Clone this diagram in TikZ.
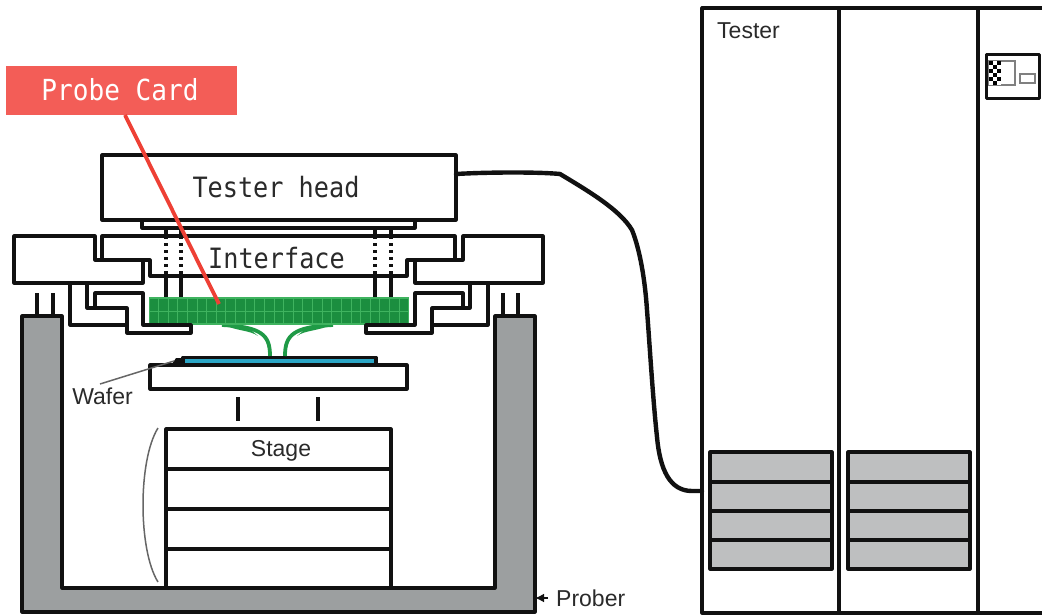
\documentclass[tikz,border=0pt]{standalone}
\usepackage{fontspec}
\setmainfont{Liberation Sans}
\newfontfamily\headfont[FakeStretch=0.9]{DejaVu Sans Mono}
\usetikzlibrary{arrows.meta}
\definecolor{prober}{HTML}{9C9FA0}
\definecolor{modgray}{HTML}{BEBFC0}
\definecolor{cardgreen}{HTML}{1B8E3F}
\definecolor{cardline}{HTML}{3FB35F}
\definecolor{wiregreen}{HTML}{1F9A46}
\definecolor{wafercyan}{HTML}{2BA6C6}
\definecolor{labelred}{HTML}{F35D57}
\definecolor{linered}{HTML}{EE4035}
\definecolor{ink}{HTML}{111111}
\definecolor{txt}{HTML}{2A2A2A}
\tikzset{
  part/.style={draw=ink,line width=3.1pt,line join=round,fill=white},
  wire/.style={draw=ink,line width=3.1pt,line join=round},
  box/.style={part,rectangle,inner sep=0pt,outer sep=0pt},
  module/.style={box,fill=modgray,minimum width=122pt,line width=3.1pt},
  layer/.style={box,minimum width=225pt,minimum height=40pt},
  head/.style={font=\headfont\fontsize{28}{30}\selectfont,text=txt,inner sep=0pt},
  plain/.style={font=\fontsize{23}{25}\selectfont,text=txt,inner sep=0pt},
  pin/.style={draw=ink,line width=3.1pt},
  dots/.style={draw=ink,line width=3.1pt,dash pattern=on 3pt off 4pt},
  thin/.style={draw=gray!80!black,line width=1.5pt},
}
\begin{document}
\begin{tikzpicture}[x=1pt,y=-1pt]
\useasboundingbox (0,0) rectangle (1042,615);
% tester cabinets
\draw[wire,line width=3.2pt] (1042,8) -- (702,8) -- (702,613) -- (1042,613);
\draw[wire,line width=3.2pt] (839,8) -- (839,613);
\draw[wire,line width=3.2pt] (978,8) -- (978,613);
\node[plain,anchor=west] (testerlabel) at (717,30.5) {Tester};
\foreach \n/\y/\h in {1/467/30,2/496.5/29,3/525.5/29,4/554.5/29}{
  \node[module,minimum height=\h pt] (ma\n) at (771,\y) {};
  \node[module,minimum height=\h pt] (mb\n) at (909,\y) {};
}
% display icon
\node[box,minimum width=53pt,minimum height=44pt,line width=3.1pt] (icon) at (1013,76.5) {};
\draw[gray,line width=1.4pt] (989,61) rectangle (1015,85);
\draw[gray,line width=1.4pt] (1020,74) rectangle (1035,83);
\fill[white] (989,61) rectangle (1001,85);
\foreach \i in {0,1,2}\foreach \j in {0,1,2,3,4,5}{
  \pgfmathtruncatemacro{\k}{mod(\i+\j,2)}
  \ifnum\k=0 \fill[black] (989+4*\i,61+4*\j) rectangle ++(4,4);\fi
}
% prober
\path[part,fill=prober] (22,316) -- (62,316) -- (62,588) -- (495,588) -- (495,316) -- (535,316) -- (535,612) -- (22,612) -- cycle;
\draw[pin] (37,293) -- (37,316) (53,293) -- (53,316) (503,293) -- (503,316) (518,293) -- (518,316);
% stage
\node[layer] (s1) at (278.5,449) {};
\node[layer] (s2) at (278.5,489) {};
\node[layer] (s3) at (278.5,529) {};
\node[layer,minimum height=39pt] (s4) at (278.5,568.5) {};
\node[plain] (stagelabel) at (281,451) {Stage};
\draw[thin] (158,428) .. controls (138,460) and (138,550) .. (158,582);
\draw[draw=ink,line width=4.1pt] (238,397) -- (238,421) (318,397) -- (318,421);
% wafer and plate
\node[box,minimum width=257pt,minimum height=24pt] (plate) at (278.5,377) {};
\node[box,fill=wafercyan,minimum width=193pt,minimum height=7pt] (wafer) at (279.5,361) {};
\fill[ink] (172,364) -- (176,358) -- (183,358) -- (183,364) -- cycle;
\node[plain] (waferlabel) at (102.5,396) {Wafer};
\draw[thin] (100,384) -- (174,361);
% probe card wires
\fill[wiregreen] (222,324) .. controls (235,331) and (250,330) .. (258,336) -- (246,326) -- cycle;
\fill[wiregreen] (333,324) .. controls (320,331) and (305,330) .. (297,336) -- (309,326) -- cycle;
\draw[wiregreen,line width=3.8pt] (222,325) .. controls (262,327) and (270,335) .. (270,356);
\draw[wiregreen,line width=3.8pt] (333,325) .. controls (293,327) and (285,335) .. (285,356);
% tester head
\node[box,minimum width=273pt,minimum height=8pt] (strip) at (278.5,224) {};
\node[box,minimum width=354pt,minimum height=65pt] (testerhead) at (279,187.5) {};
\node[head] (headlabel) at (276,187) {Tester head};
% interface
\path[part] (102,236) -- (455,236) -- (455,260) -- (407,260) -- (407,276) -- (150,276) -- (150,260) -- (102,260) -- cycle;
\draw[dots] (166,236) -- (166,276) (181,236) -- (181,276) (375,236) -- (375,276) (391,236) -- (391,276);
\draw[pin] (166,228) -- (166,236) (181,228) -- (181,236) (375,228) -- (375,236) (391,228) -- (391,236);
\draw[pin] (166,276) -- (166,298) (181,276) -- (181,298) (375,276) -- (375,298) (391,276) -- (391,298);
\node[head] (ifacelabel) at (276.5,258) {Interface};
% side frames
\path[part] (14,236) -- (95,236) -- (95,260) -- (143,260) -- (143,283) -- (14,283) -- cycle;
\path[part] (543,236) -- (463,236) -- (463,260) -- (415,260) -- (415,283) -- (543,283) -- cycle;
\draw[wire] (70,283) -- (70,325) -- (127,325);
\draw[wire] (87,283) -- (87,308) -- (127,308) -- (127,333) -- (191,333) -- (191,325) -- (143,325) -- (143,293) -- (95,293) -- (95,308);
\draw[wire] (488,283) -- (488,325) -- (432,325);
\draw[wire] (470,283) -- (470,308) -- (432,308) -- (432,333) -- (366,333) -- (366,325) -- (415,325) -- (415,293) -- (463,293) -- (463,308);
% probe card
\node[rectangle,draw=cardline,fill=cardgreen,line width=1.6pt,inner sep=0pt,outer sep=0pt,minimum width=259pt,minimum height=26pt] (card) at (279,311) {};
\foreach \i in {1,...,26}{\draw[cardline,line width=1pt] (149+\i*9.62,299) -- (149+\i*9.62,324);}
\draw[cardline,line width=1pt] (150,311) -- (408,311);
\draw[wire] (191,333) -- (191,325) -- (143,325);
\draw[wire] (366,333) -- (366,325) -- (415,325);
% cable
\coordinate (cableend) at (702,491);
\draw[draw=ink,line width=4.4pt,line cap=round] (testerhead.east |- 0,174) .. controls (490,172) and (540,172) .. (560,174)
  .. controls (590,192) and (620,210) .. (632,230)
  .. controls (640,250) and (645,280) .. (647,310)
  .. controls (650,350) and (653,400) .. (657,437)
  .. controls (660,470) and (670,491) .. (692,491) -- (cableend);
% prober label
\node[plain,anchor=west] (proberlabel) at (556,598) {Prober};
\coordinate (proberedge) at (535,598);
\draw[draw=ink,line width=2pt,-{Latex[length=9pt,width=9pt]}] (proberedge) ++(13,0) -- (proberedge);
% callout
\node[rectangle,fill=labelred,inner sep=0pt,outer sep=0pt,minimum width=231pt,minimum height=49pt] (callout) at (121.5,90.5) {};
\coordinate (cardpoint) at (219,304);
\draw[linered,line width=3.8pt] (125,115) -- (cardpoint);
\node[head,text=white,font=\headfont\fontsize{29}{30}\selectfont] (calloutlabel) at (120,90) {Probe Card};
\end{tikzpicture}
\end{document}
